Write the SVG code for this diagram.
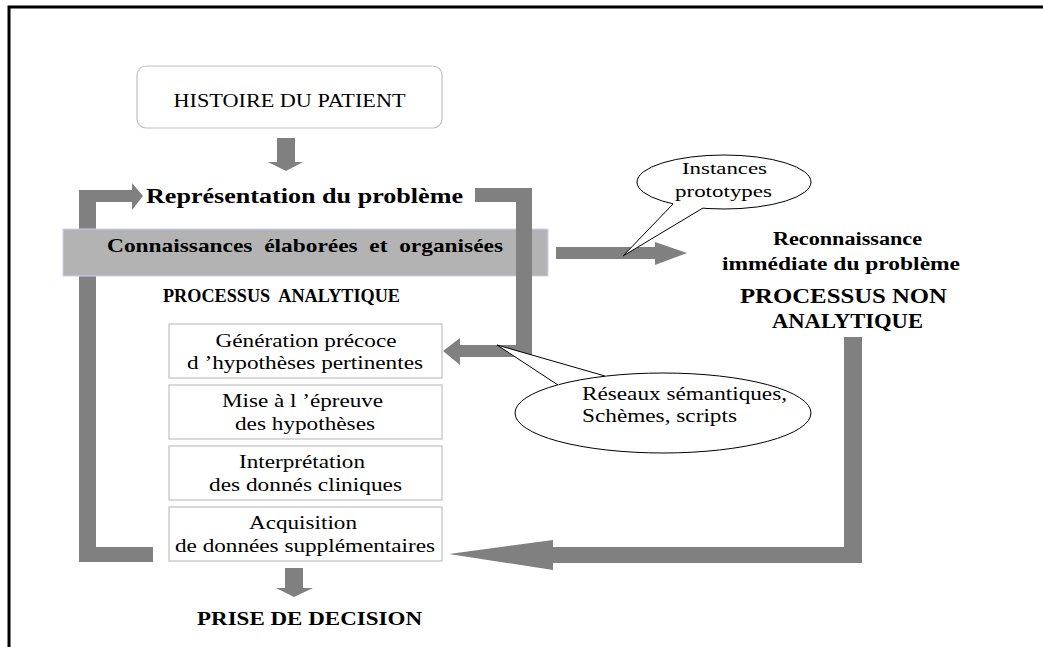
<svg xmlns="http://www.w3.org/2000/svg" width="1043" height="647" viewBox="0 0 1043 647">
<style>
text{font-family:'Liberation Serif','Times New Roman',serif;fill:#000}
.b{font-weight:bold}
.box{fill:#fff;stroke:#c0c0c0;stroke-width:1.2}
.arr{fill:#808080}
.call{fill:#fff;stroke:#000;stroke-width:1}
.tl{stroke:#000;stroke-width:1;fill:none}
</style>
<rect width="1043" height="647" fill="#fff"/>
<path d="M9,647 V7 H1043" fill="none" stroke="#000" stroke-width="3"/>

<g id="connectors">
  <polygon class="arr" points="277,138 295,138 295,162 303,162 286,171 268,162 277,162"/>
  <polygon class="arr" points="79,562 153,562 153,547 96,547 96,202 132,202 132,210 143,196 132,183 132,190 79,190"/>
  <polygon class="arr" points="285,568 303,568 303,588 313,588 294,597 276,588 285,588"/>
  <polygon class="arr" points="556,247 655,247 655,242 687,253 655,265 655,259 556,259"/>
  <polygon class="arr" points="844,337 862,337 862,563 553,563 553,570 449,554 553,540 553,547 844,547"/>
</g>

<g id="histoire">
  <rect class="box" x="137" y="66" width="305" height="62" rx="9"/>
  <text x="289.5" y="107" font-size="19" text-anchor="middle" textLength="232" lengthAdjust="spacingAndGlyphs">HISTOIRE DU PATIENT</text>
</g>

<g id="connaissances">
  <rect x="63" y="229" width="485" height="47" fill="#b3b3b3" stroke="#cfcff5" stroke-width="1"/>
  <text x="305" y="252" font-size="19.5" class="b" text-anchor="middle" textLength="396" lengthAdjust="spacingAndGlyphs" xml:space="preserve">Connaissances  élaborées  et  organisées</text>
</g>

<g id="representation">
  <text x="304.5" y="203" font-size="20" class="b" text-anchor="middle" textLength="317" lengthAdjust="spacingAndGlyphs">Représentation du problème</text>
</g>

<g id="bracket">
  <polygon class="arr" points="475,188 532,188 532,357 460,357 460,365 443,351 460,338 460,345 516,345 516,202 475,202"/>
</g>

<g id="processus-analytique">
  <text x="281.5" y="302" font-size="19.5" class="b" text-anchor="middle" textLength="237" lengthAdjust="spacingAndGlyphs" xml:space="preserve">PROCESSUS  ANALYTIQUE</text>
</g>

<g id="generation">
  <rect class="box" x="169" y="324" width="273" height="54"/>
  <text x="306" y="347" font-size="19" text-anchor="middle" textLength="181" lengthAdjust="spacingAndGlyphs">Génération précoce</text>
  <text x="305" y="369" font-size="19" text-anchor="middle" textLength="236" lengthAdjust="spacingAndGlyphs">d ’hypothèses pertinentes</text>
</g>
<g id="mise">
  <rect class="box" x="169" y="385" width="273" height="54"/>
  <text x="302.5" y="407" font-size="19" text-anchor="middle" textLength="161" lengthAdjust="spacingAndGlyphs">Mise à l ’épreuve</text>
  <text x="305" y="430" font-size="19" text-anchor="middle" textLength="140" lengthAdjust="spacingAndGlyphs">des hypothèses</text>
</g>
<g id="interpretation">
  <rect class="box" x="169" y="446" width="273" height="54"/>
  <text x="302" y="468" font-size="19" text-anchor="middle" textLength="126" lengthAdjust="spacingAndGlyphs">Interprétation</text>
  <text x="305.5" y="491" font-size="19" text-anchor="middle" textLength="193" lengthAdjust="spacingAndGlyphs">des donnés cliniques</text>
</g>
<g id="acquisition">
  <rect class="box" x="169" y="507" width="273" height="54"/>
  <text x="303" y="529" font-size="19" text-anchor="middle" textLength="108" lengthAdjust="spacingAndGlyphs">Acquisition</text>
  <text x="305" y="552" font-size="19" text-anchor="middle" textLength="260" lengthAdjust="spacingAndGlyphs">de données supplémentaires</text>
</g>

<g id="decision">
  <text x="309.5" y="625" font-size="19.5" class="b" text-anchor="middle" textLength="225" lengthAdjust="spacingAndGlyphs">PRISE DE DECISION</text>
</g>

<g id="instances">
  <ellipse class="call" cx="724" cy="182" rx="87" ry="27"/>
  <polygon points="623,256 673,204 676,199 705,201 703,208" fill="#fff"/>
  <polyline class="tl" points="673,204 623,256 703,208"/>
  <text x="724.5" y="174" font-size="17.5" text-anchor="middle" textLength="85" lengthAdjust="spacingAndGlyphs">Instances</text>
  <text x="723.5" y="197" font-size="17.5" text-anchor="middle" textLength="97" lengthAdjust="spacingAndGlyphs">prototypes</text>
</g>

<g id="reconnaissance">
  <text x="847.5" y="245" font-size="18.5" class="b" text-anchor="middle" textLength="149" lengthAdjust="spacingAndGlyphs">Reconnaissance</text>
  <text x="841" y="270" font-size="18.5" class="b" text-anchor="middle" textLength="238" lengthAdjust="spacingAndGlyphs">immédiate du problème</text>
  <text x="843.5" y="303" font-size="20" class="b" text-anchor="middle" textLength="207" lengthAdjust="spacingAndGlyphs">PROCESSUS NON</text>
  <text x="847.5" y="328" font-size="20" class="b" text-anchor="middle" textLength="151" lengthAdjust="spacingAndGlyphs">ANALYTIQUE</text>
</g>

<g id="reseaux">
  <ellipse class="call" cx="663" cy="413" rx="148" ry="40"/>
  <polygon points="497,345 558,385 562,380 607,372 605,376" fill="#fff"/>
  <polyline class="tl" points="558,385 497,345 605,376"/>
  <text x="582" y="400" font-size="18.5" textLength="205" lengthAdjust="spacingAndGlyphs">Réseaux sémantiques,</text>
  <text x="582" y="422" font-size="18.5" textLength="155" lengthAdjust="spacingAndGlyphs">Schèmes, scripts</text>
</g>
</svg>
